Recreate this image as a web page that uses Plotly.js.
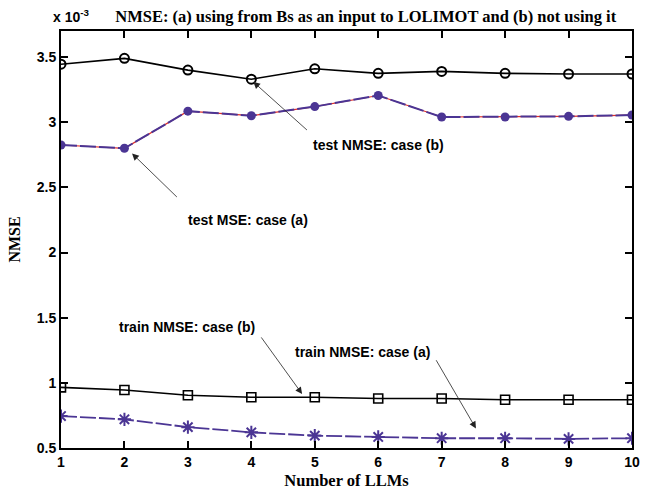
<!DOCTYPE html>
<html><head><meta charset="utf-8">
<script src="https://cdn.plot.ly/plotly-3.0.1.min.js"></script>
<style>html,body{margin:0;padding:0;background:#fff}#chart{width:653px;height:494px}</style>
</head><body><div id="chart"></div>
<script>
const llms = [1,2,3,4,5,6,7,8,9,10];
const testB = [3.445,3.49,3.40,3.33,3.41,3.375,3.39,3.375,3.37,3.37];
const testA = [2.825,2.80,3.085,3.05,3.12,3.205,3.04,3.04,3.045,3.055];
const trainB = [0.965,0.945,0.905,0.89,0.89,0.88,0.88,0.87,0.87,0.87];
const trainA = [0.745,0.72,0.66,0.62,0.595,0.585,0.575,0.575,0.57,0.575];
const yTicks = [0.5,1,1.5,2,2.5,3,3.5];
const yTickText = ['0.5','1','1.5','2','2.5','3','3.5'];
const purple = '#4b3594';
const traces = [
  {x:llms,y:testB,mode:'lines+markers',line:{color:'#000',width:1.6},marker:{symbol:'circle-open',size:9,color:'#000',line:{width:2}}},
  {x:llms,y:testA,mode:'lines',line:{color:'#e0302a',width:1.2}},
  {x:llms,y:testA,mode:'lines+markers',line:{color:purple,width:2,dash:'16px,3px'},marker:{symbol:'circle',size:9,color:purple}},
  {x:llms,y:trainB,mode:'lines+markers',line:{color:'#000',width:1.6},marker:{symbol:'square-open',size:9,color:'#000',line:{width:1.6}}},
  {x:llms,y:trainA,mode:'lines+markers',line:{color:purple,width:1.8,dash:'16px,3px'},marker:{symbol:'asterisk-open',size:11,color:purple,line:{width:2,color:purple}}}
];
const af = {family:'Liberation Sans, Arial',size:14,color:'#000',weight:'bold'};
function arrow(x,y,ax,ay){return {x:x,y:y,ax:ax,ay:ay,xref:'x',yref:'y',axref:'x',ayref:'y',text:'',showarrow:true,arrowhead:2,arrowsize:1.7,arrowwidth:0.8,arrowcolor:'#222'};}
function label(x,y,t){return {x:x,y:y,xref:'x',yref:'y',text:t,showarrow:false,font:af};}
const layout = {
  width:653,height:494,
  margin:{l:61,r:21,t:31,b:46},
  paper_bgcolor:'#fff',plot_bgcolor:'#fff',
  showlegend:false,
  title:{text:'NMSE: (a) using from Bs as an input to LOLIMOT and (b) not using it',font:{family:'Liberation Serif, Times New Roman',size:16.5,color:'#000',weight:'bold'},x:0.56,xanchor:'center',y:0.968,yanchor:'middle'},
  xaxis:{range:[1,10],tickvals:llms,ticks:'inside',ticklen:7,tickwidth:1.5,tickcolor:'#000',showline:true,linecolor:'#000',linewidth:2,mirror:'ticks',showgrid:false,zeroline:false,
    tickfont:{family:'Liberation Sans, Arial',size:14,color:'#000',weight:'bold'},
    title:{text:'Number of LLMs',font:{family:'Liberation Serif, Times New Roman',size:16.5,color:'#000',weight:'bold'},standoff:6}},
  yaxis:{range:[0.5,3.7],tickvals:yTicks,ticktext:yTickText,ticks:'inside',ticklen:7,tickwidth:1.5,tickcolor:'#000',showline:true,linecolor:'#000',linewidth:2,mirror:'ticks',showgrid:false,zeroline:false,
    tickfont:{family:'Liberation Sans, Arial',size:14,color:'#000',weight:'bold'},
    title:{text:'NMSE',font:{family:'Liberation Serif, Times New Roman',size:16,color:'#000',weight:'bold'},standoff:12}},
  annotations:[
    {xref:'paper',yref:'paper',x:0,xshift:-10,y:1.036,xanchor:'left',yanchor:'middle',showarrow:false,text:'x 10<sup>-3</sup>',font:{family:'Liberation Sans, Arial',size:14,color:'#000',weight:'bold'}},
    arrow(4.03,3.31,4.9,2.93), label(6.0,2.823,'test NMSE: case (b)'),
    arrow(2.12,2.76,2.85,2.415), label(3.94,2.25,'test MSE: case (a)'),
    arrow(4.8,0.915,4.14,1.36), label(2.99,1.43,'train NMSE: case (b)'),
    arrow(7.54,0.65,6.9,1.185), label(5.75,1.24,'train NMSE: case (a)')
  ]
};
Plotly.newPlot('chart',traces,layout,{displayModeBar:false});
</script></body></html>
